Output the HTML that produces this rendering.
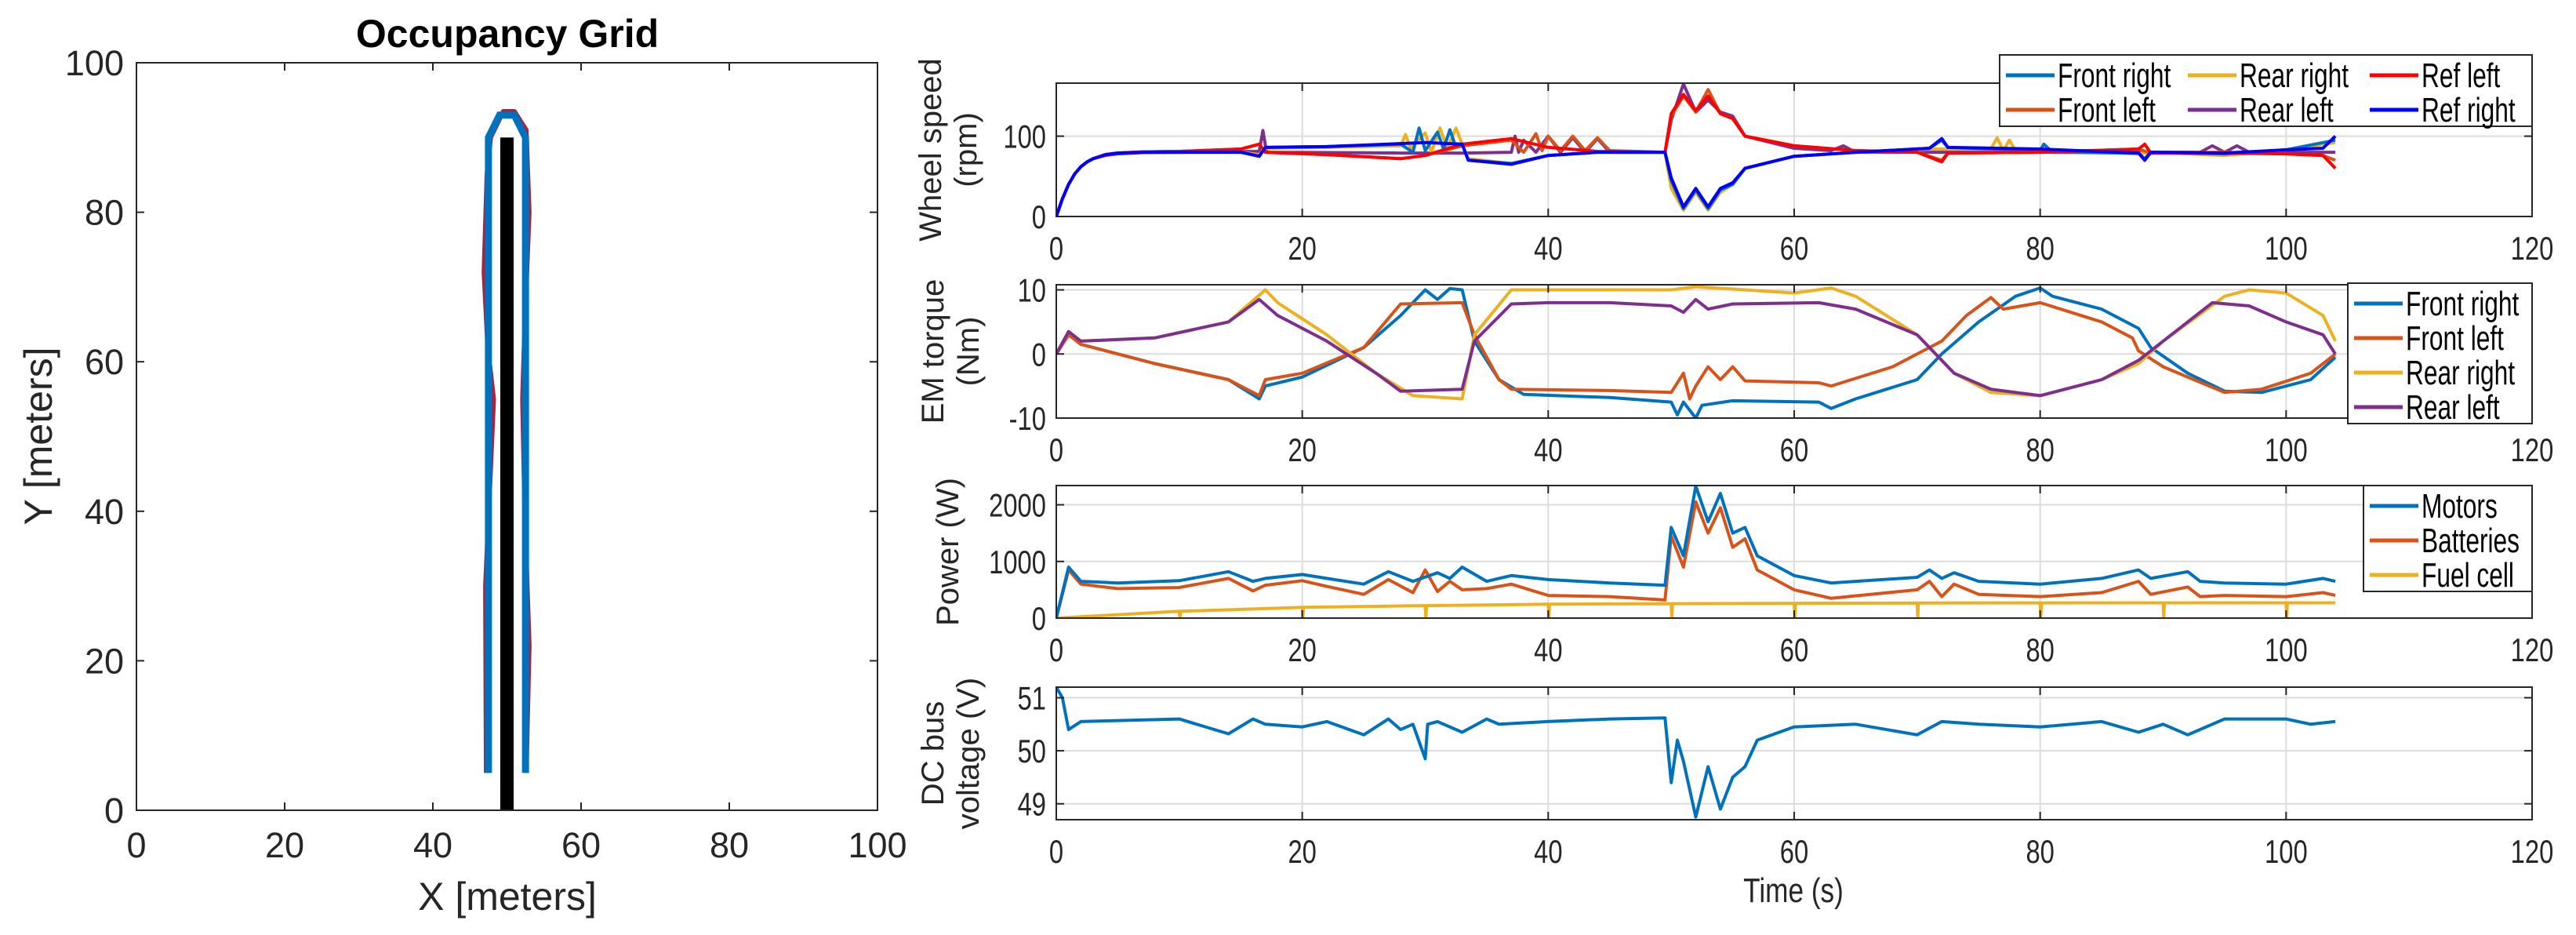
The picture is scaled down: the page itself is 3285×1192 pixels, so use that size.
<!DOCTYPE html>
<html><head><meta charset="utf-8"><style>
html,body{margin:0;padding:0;background:#fff;}
svg{display:block;font-family:"Liberation Sans",sans-serif;}
</style></head><body>
<svg id="fig" width="3285" height="1192" viewBox="0 0 3285 1192" xmlns="http://www.w3.org/2000/svg"></svg>
<script>
// ---------- DATA ----------
const gridTicks = [0,20,40,60,80,100];
const obstacleX = [49.1, 50.9];
const obstacleY = [0, 90];
const pathBlue = [[47.5,5],[47.5,50],[47.5,90],[49,93],[51,93],[52.5,90],[52.5,60],[52.5,5]];
const pathRed = [[47.2,5],[47.1,30],[48.2,55],[47.4,62],[46.9,72],[47.3,85],[47.8,90],[49.5,93.5],[51,93.5],[52.6,91],[53,80],[52.4,65],[52.1,55],[52.4,40],[53,22],[52.6,5]];

const timeTicks = [0,20,40,60,80,100,120];

const wsTicks = [0,100];
const wsRefLeft = [[0,0],[0.5,22],[1,40],[1.5,53],[2,62],[2.5,68],[3,72],[4,77],[5,79],[7,80.5],[10,81],[15,84],[16.5,90],[17,80],[22,77],[28,72],[30,76],[33,90],[37,97],[40,86],[44,81],[49.5,80],[50,128],[51,152],[52,132],[53,150],[54,128],[55,122],[56,100],[60,88],[65,82],[70,80],[72,68],[72.5,79],[80,80],[88,84],[88.5,90],[89,79],[95,79],[100,78],[103,76],[104,60]];
const wsFrontLeft = [[0,0],[0.5,22],[1,40],[1.5,53],[2,62],[2.5,68],[3,72],[4,77],[5,79],[7,80.5],[10,81],[15,84],[16.5,90],[17,80],[22,77],[28,72],[30,76],[33,88],[37,95],[38,80],[39,103],[39.5,82],[40,100],[41,82],[42,100],[43,82],[44,98],[45,82],[49.5,80],[50,125],[51,150],[52,130],[53,158],[54,128],[55,122],[56,100],[60,88],[65,82],[70,80],[72,70],[72.5,79],[80,80],[88,84],[89,79],[95,80],[100,78],[103,76],[104,70]];
const wsRearLeft = [[0,0],[0.5,22],[1,40],[1.5,53],[2,62],[2.5,68],[3,72],[4,76],[5,78],[7,79.5],[10,80],[16.5,81],[16.8,107],[17.1,80],[28,79],[33,79],[37,80],[37.3,100],[37.6,80],[38,95],[39,80],[40,100],[41,80],[42,98],[43,80],[44,97],[45,80],[49.5,80],[50,120],[51,165],[52,130],[53,145],[54,130],[55,125],[56,100],[60,85],[63,82],[64,88],[65,80],[80,80],[93,80],[94,88],[95,80],[96,88],[97,80],[104,80]];
const wsRefRight = [[0,0],[0.5,22],[1,40],[1.5,53],[2,62],[2.5,68],[3,72],[4,77],[5,79],[7,80],[10,80],[15,80],[16.5,75],[17,86],[22,87],[30,92],[33,90],[33.5,70],[37,65],[40,76],[44,80],[49.5,80],[50,48],[51,12],[52,35],[53,12],[54,35],[55,42],[56,60],[60,75],[65,80],[71,85],[72,97],[72.5,86],[80,84],[88,79],[88.5,70],[89,80],[95,79],[100,83],[103,85],[104,100]];
const wsFrontRight = [[0,0],[0.5,22],[1,40],[1.5,53],[2,62],[2.5,68],[3,72],[4,77],[5,79],[7,80],[10,80],[15,80],[16.5,75],[17,86],[22,87],[28,90],[29,80],[29.5,110],[30,82],[31,105],[31.5,84],[32,108],[32.5,86],[33,90],[33.5,70],[37,66],[40,76],[44,80],[49.5,80],[50,45],[51,10],[52,33],[53,10],[54,33],[55,40],[56,60],[60,75],[65,80],[71,85],[72,95],[72.5,86],[80,82],[80.3,90],[81,80],[88,79],[88.5,72],[89,80],[95,78],[100,83],[104,95]];
const wsRearRight = [[0,0],[0.5,22],[1,40],[1.5,53],[2,62],[2.5,68],[3,72],[4,77],[5,79],[7,80],[10,80],[15,80],[16.5,77],[17,85],[22,86],[28,88],[28.4,102],[28.8,85],[30,104],[30.5,80],[31.2,110],[31.8,85],[32.5,110],[33,90],[33.5,72],[37,66],[40,76],[44,80],[49.5,80],[50,35],[51,8],[52,30],[53,8],[54,30],[55,40],[56,60],[60,75],[65,80],[71,84],[76,84],[76.5,98],[77,82],[77.5,95],[78,82],[88,78],[89,80],[95,76],[100,83],[104,92]];

const tqTicks = [-10,0,10];
const tqFrontRight = [[0,0],[1,3],[2,1.5],[8,-1.5],[14,-4],[16.5,-7],[17,-5],[20,-3.6],[25,1],[28,6],[30,10],[31,8.5],[32,10.2],[33,10],[34,2],[36,-4],[38,-6.3],[45,-6.8],[50,-7.5],[50.5,-9.5],[51,-7.5],[52,-10],[52.5,-8],[55,-7.3],[62,-7.5],[63,-8.5],[65,-7],[70,-4],[72,0],[75,5],[78,9],[80,10.3],[81,9],[85,7],[88,4],[89,1],[92,-3],[95,-5.8],[98,-6],[102,-4],[104,-0.5]];
const tqFrontLeft = [[0,0],[1,3],[2,1.5],[8,-1.5],[14,-4],[16.5,-6.5],[17,-4],[20,-3],[25,1],[28,7.8],[33,8],[34,3],[36,-4],[37,-5.5],[45,-5.7],[50,-6],[51,-3],[51.5,-7],[52,-5],[53,-2],[54,-4],[55,-2],[56,-4.2],[62,-4.5],[63,-5],[68,-2],[72,2],[74,6],[76,8.8],[77,7],[80,8],[85,5],[87.5,2.5],[88,0.5],[90,-2],[95,-6],[98,-5.5],[102,-3],[104,0]];
const tqRearRight = [[0,0],[1,3.5],[2,2],[8,2.5],[14,5],[17,10],[18,8],[22,3],[26,-3],[29,-6.5],[33,-7],[34,3],[37,10],[40,10],[50,10],[52,10.5],[60,9.5],[63,10.3],[65,9],[70,3],[73,-3],[76,-6],[80,-6.5],[85,-4],[88,-1.5],[90,2],[95,9],[97,10],[100,9.5],[103,6],[104,2]];
const tqRearLeft = [[0,0],[1,3.5],[2,2],[8,2.5],[14,5],[16.5,8.5],[18,6],[22,2],[26,-3],[28,-5.8],[33,-5.5],[34,2],[37,7.8],[40,8],[45,8],[50,7.5],[51,6.5],[52,8.5],[53,7],[55,7.8],[62,8],[65,7],[70,3],[73,-3],[76,-5.5],[80,-6.5],[85,-4],[88,-1],[90,2],[94,8],[97,7.5],[100,5],[103,3],[104,0]];

const pwTicks = [0,1000,2000];
const pwMotors = [[0,0],[1,900],[2,650],[5,620],[10,660],[14,820],[16,650],[17,700],[20,770],[22,700],[25,600],[27,820],[29,650],[31,800],[32,700],[33,900],[35,650],[37,750],[40,680],[45,620],[49.5,580],[50,1600],[51,1100],[52,2330],[53,1700],[54,2200],[55,1500],[56,1600],[57,1100],[60,750],[63,620],[70,720],[71,850],[72,700],[73,800],[75,650],[80,600],[85,700],[88,850],[89,700],[92,820],[93,650],[95,620],[100,600],[103,700],[104,650]];
const pwBatteries = [[0,0],[1,850],[2,600],[5,520],[10,540],[14,700],[16,480],[17,580],[20,660],[22,560],[25,420],[27,680],[29,450],[30,850],[31,470],[32,650],[33,500],[35,520],[37,600],[40,400],[45,380],[49.5,320],[50,1450],[51,900],[52,2050],[53,1500],[54,1950],[55,1250],[56,1400],[57,850],[60,500],[63,350],[70,500],[71,650],[72,380],[73,600],[75,420],[80,380],[85,450],[88,650],[89,420],[92,550],[93,380],[95,400],[100,380],[103,450],[104,400]];
const pwFuelCell = [[0,0],[10,120],[10.05,0],[10.1,120],[20,190],[20.05,0],[20.1,190],[30,220],[30.05,0],[30.1,220],[40,245],[40.05,0],[40.1,245],[50,255],[50.05,0],[50.1,255],[60,262],[60.05,0],[60.1,262],[70,266],[70.05,0],[70.1,266],[80,268],[80.05,0],[80.1,268],[90,270],[90.05,0],[90.1,270],[100,270],[100.05,0],[100.1,270],[104,270]];

const dcTicks = [49,50,51];
const dcVoltage = [[0,51.2],[0.5,51],[1,50.4],[2,50.55],[10,50.6],[14,50.32],[16,50.6],[17,50.5],[20,50.45],[22,50.55],[25,50.3],[27,50.6],[28,50.4],[29,50.5],[30,49.85],[30.2,50.5],[31,50.55],[33,50.35],[35,50.6],[36,50.5],[40,50.55],[45,50.6],[49.5,50.62],[50,49.4],[50.5,50.2],[51,49.8],[52,48.75],[53,49.7],[54,48.9],[55,49.5],[56,49.7],[57,50.2],[60,50.45],[65,50.5],[70,50.3],[72,50.55],[75,50.5],[80,50.45],[85,50.55],[88,50.35],[90,50.5],[92,50.3],[95,50.6],[100,50.6],[102,50.5],[104,50.55]];

// ---------- DRAW ----------
const NS='http://www.w3.org/2000/svg';
const svg=document.getElementById('fig');
function mk(tag,attrs,parent){const e=document.createElementNS(NS,tag);for(const k in attrs)e.setAttribute(k,attrs[k]);(parent||svg).appendChild(e);return e;}
function txt(s,x,y,size,anchor,extra,parent,sx){
  const g=mk('g',{transform:`translate(${x},${y}) scale(${sx||1},1)`},parent);
  const t=mk('text',Object.assign({x:0,y:0,'font-size':size,'text-anchor':anchor||'middle',fill:'#262626'},extra||{}),g);
  t.textContent=s;return t;
}
function linFn(d0,d1,p0,p1){return v=>p0+(v-d0)/(d1-d0)*(p1-p0);}

// Left occupancy grid
const L={x0:174,x1:1119,y0:80,y1:1033};
const gx=linFn(0,100,L.x0,L.x1), gy=linFn(0,100,L.y1,L.y0);
const occ=mk('g',{});


const obs=mk('rect',{x:gx(obstacleX[0]),y:gy(obstacleY[1]),width:gx(obstacleX[1])-gx(obstacleX[0]),height:gy(obstacleY[0])-gy(obstacleY[1]),fill:'#000'},occ);


const pr=mk('polyline',{points:pathRed.map(p=>gx(p[0])+','+gy(p[1])).join(' '),fill:'none',stroke:'#b0203a',"stroke-width":6,'stroke-linejoin':'round'},occ);


const pb=mk('polyline',{points:pathBlue.map(p=>gx(p[0])+','+gy(p[1])).join(' '),fill:'none',stroke:'#0072bd',"stroke-width":9},occ);


mk('rect',{x:L.x0,y:L.y0,width:L.x1-L.x0,height:L.y1-L.y0,fill:'none',stroke:'#262626','stroke-width':2},occ);
gridTicks.forEach(v=>{
  mk('line',{x1:gx(v),x2:gx(v),y1:L.y1,y2:L.y1-10,stroke:'#262626','stroke-width':2},occ);
  mk('line',{x1:gx(v),x2:gx(v),y1:L.y0,y2:L.y0+10,stroke:'#262626','stroke-width':2},occ);
  mk('line',{y1:gy(v),y2:gy(v),x1:L.x0,x2:L.x0+10,stroke:'#262626','stroke-width':2},occ);
  mk('line',{y1:gy(v),y2:gy(v),x1:L.x1,x2:L.x1-10,stroke:'#262626','stroke-width':2},occ);
  const a=txt(String(v),gx(v),1093,45,'middle',{},occ);
  
  
  const b=txt(String(v),158,gy(v)+16,45,'end',{},occ);
  
  
});
const tt=txt('Occupancy Grid',647,60,50,'middle',{'font-weight':'bold',fill:'#000'},occ);


const xl=txt('X [meters]',647,1160,50,'middle',{},occ);


const yg=mk('g',{transform:'translate(66,556) rotate(-90)'},occ);
const yl=txt('Y [meters]',0,0,50,'middle',{},yg);



// Right panels
const RX0=1347,RX1=3229;
const tx=linFn(0,120,RX0,RX1);
const C={blue:'#0072bd',orange:'#d95319',yellow:'#edb120',purple:'#7e2f8e',red:'#ff0000',rblue:'#0000ff'};
function panel(name,y0,y1,ymin,ymax,ticks,tickFmt,labels,series){
  const g=mk('g',{});
  
  
  const sy=linFn(ymin,ymax,y1,y0);
  timeTicks.forEach(v=>{ if(v>0&&v<120) mk('line',{x1:tx(v),x2:tx(v),y1:y0,y2:y1,stroke:'#dcdcdc','stroke-width':2},g);});
  ticks.forEach(v=>mk('line',{x1:RX0,x2:RX1,y1:sy(v),y2:sy(v),stroke:'#dcdcdc','stroke-width':2},g));
  const clipId='c'+name;
  const cp=mk('clipPath',{id:clipId},g);
  mk('rect',{x:RX0,y:y0,width:RX1-RX0,height:y1-y0},cp);
  series.forEach(s=>{
    const pl=mk('polyline',{points:s.d.map(p=>tx(p[0]).toFixed(1)+','+sy(p[1]).toFixed(1)).join(' '),fill:'none',stroke:s.c,'stroke-width':4,'stroke-linejoin':'round','clip-path':`url(#${clipId})`},g);
    
    
  });
  mk('rect',{x:RX0,y:y0,width:RX1-RX0,height:y1-y0,fill:'none',stroke:'#262626','stroke-width':2},g);
  timeTicks.forEach(v=>{
    mk('line',{x1:tx(v),x2:tx(v),y1:y1,y2:y1-10,stroke:'#262626','stroke-width':2},g);
    mk('line',{x1:tx(v),x2:tx(v),y1:y0,y2:y0+10,stroke:'#262626','stroke-width':2},g);
    const t=txt(String(v),tx(v),y1+55,42,'middle',{},g,0.78);
    
    
  });
  ticks.forEach(v=>{
    mk('line',{x1:RX0,x2:RX0+10,y1:sy(v),y2:sy(v),stroke:'#262626','stroke-width':2},g);
    mk('line',{x1:RX1,x2:RX1-10,y1:sy(v),y2:sy(v),stroke:'#262626','stroke-width':2},g);
    const t=txt(tickFmt(v),1334,sy(v)+15,42,'end',{},g,0.78);
    
    
  });
  const cy=(y0+y1)/2;
  labels.forEach((l,i)=>{
    const lg=mk('g',{transform:`translate(${l.x},${cy}) rotate(-90)`},g);
    const t=txt(l.s,0,0,40,'middle',{},lg);
    
    
  });
  return g;
}
function legend(name,x,y,w,h,items,cols,rowH,colW){
  const g=mk('g',{});
  
  
  mk('rect',{x,y,width:w,height:h,fill:'#fff',stroke:'#262626','stroke-width':2},g);
  items.forEach((it,i)=>{
    const c=i%cols,r=Math.floor(i/cols);
    const ex=x+8+c*colW, ey=y+rowH/2+4+r*rowH;
    const e=mk('g',{},g);
    
    
    mk('line',{x1:ex,x2:ex+62,y1:ey,y2:ey,stroke:it.c,'stroke-width':5},e);
    txt(it.s,ex+66,ey+15,44,'start',{fill:'#000'},e,0.72);
  });
}

panel('wheel-speed-panel',106,276,0,166,wsTicks,v=>String(v),[{s:'Wheel speed',x:1200},{s:'(rpm)',x:1245}],[
  {n:'rear-left-line',c:C.purple,d:wsRearLeft},
  {n:'rear-right-line',c:C.yellow,d:wsRearRight},
  {n:'front-right-line',c:C.blue,d:wsFrontRight},
  {n:'front-left-line',c:C.orange,d:wsFrontLeft},
  {n:'ref-left-line',c:C.red,d:wsRefLeft},
  {n:'ref-right-line',c:C.rblue,d:wsRefRight}]);
legend('wheel-speed-legend',2550,70,679,91,[
  {s:'Front right',c:C.blue},{s:'Rear right',c:C.yellow},{s:'Ref left',c:C.red},
  {s:'Front left',c:C.orange},{s:'Rear left',c:C.purple},{s:'Ref right',c:C.rblue}],3,44,232);

panel('em-torque-panel',363,533,-10,10.8,tqTicks,v=>String(v),[{s:'EM torque',x:1203},{s:'(Nm)',x:1248}],[
  {n:'front-right-torque',c:C.blue,d:tqFrontRight},
  {n:'front-left-torque',c:C.orange,d:tqFrontLeft},
  {n:'rear-right-torque',c:C.yellow,d:tqRearRight},
  {n:'rear-left-torque',c:C.purple,d:tqRearLeft}]);
legend('em-torque-legend',2994,361,235,179,[
  {s:'Front right',c:C.blue},{s:'Front left',c:C.orange},{s:'Rear right',c:C.yellow},{s:'Rear left',c:C.purple}],1,44,0);

panel('power-panel',619,788,0,2340,pwTicks,v=>String(v),[{s:'Power (W)',x:1222}],[
  {n:'fuel-cell-power',c:C.yellow,d:pwFuelCell},
  {n:'batteries-power',c:C.orange,d:pwBatteries},
  {n:'motors-power',c:C.blue,d:pwMotors}]);
legend('power-legend',3014,619,215,135,[
  {s:'Motors',c:C.blue},{s:'Batteries',c:C.orange},{s:'Fuel cell',c:C.yellow}],1,44,0);

panel('dc-bus-panel',876,1045,48.7,51.2,dcTicks,v=>String(v),[{s:'DC bus',x:1203},{s:'voltage (V)',x:1248}],[
  {n:'dc-bus-voltage-line',c:C.blue,d:dcVoltage}]);

const tl=txt('Time (s)',2287,1150,44,'middle',{},svg,0.8);


</script>
</body></html>
